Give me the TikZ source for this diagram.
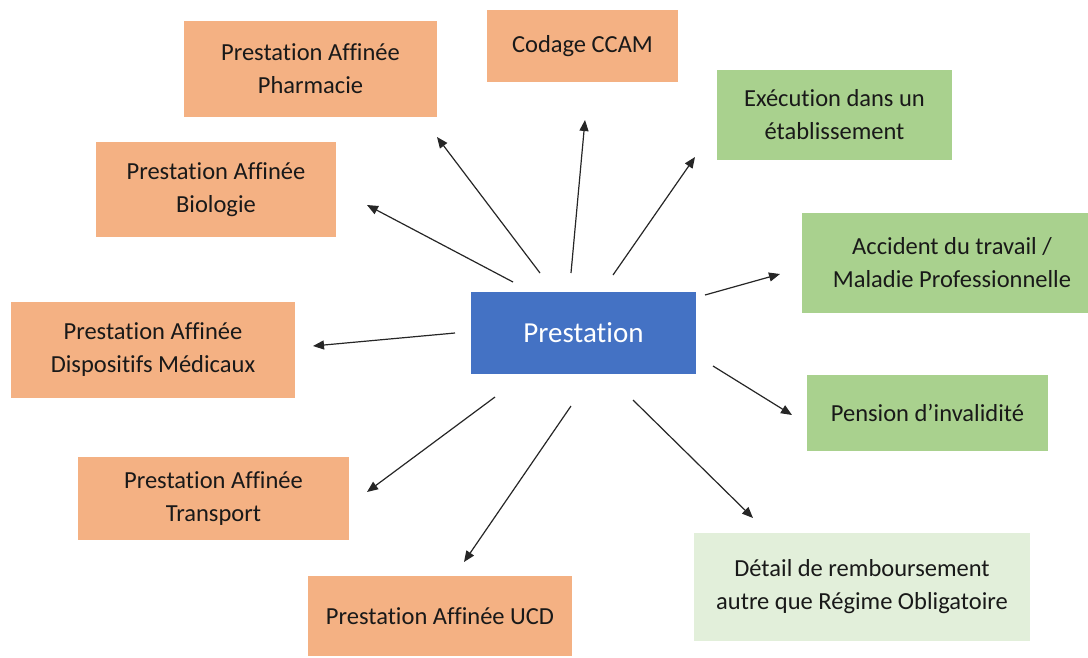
\documentclass[tikz,border=0pt]{standalone}
\usepackage{fontspec}
\setmainfont{Carlito}[Ligatures=NoCommon]
\usetikzlibrary{arrows.meta}
\definecolor{orangebox}{HTML}{F4B183}
\definecolor{greenbox}{HTML}{A9D18E}
\definecolor{lightgreen}{HTML}{E2EFDA}
\definecolor{bluebox}{HTML}{4472C4}
\tikzset{
  x=1pt,y=-1pt,
  box/.style={inner sep=0pt,align=center,font=\fontsize{24.5}{33}\selectfont,text=black!90},
  orange/.style={box,fill=orangebox},
  green/.style={box,fill=greenbox},
  lgreen/.style={box,fill=lightgreen},
  arr/.style={draw=black!85,line width=1.2pt,-{Triangle[length=11pt,width=9pt]}}
}
\newcommand{\bx}[7]{% name style x1 y1 x2 y2 text
  \path[#2] (#3,#4) rectangle (#5,#6);
  \node[#2,fill=none] (#1) at ({(#3+#5)/2},{(#4+#6)/2}) {#7};
}
\begin{document}
\begin{tikzpicture}
\useasboundingbox (0,0) rectangle (1088,657);
\path[fill=bluebox] (471,292) rectangle (696,374);
\node[text=white,font=\fontsize{29}{34}\selectfont] (main) at (583.5,333) {Prestation};
\bx{pharma}{orange}{184}{21}{437}{117}{Prestation Affinée\\Pharmacie}
\bx{ccam}{orange}{487}{10}{678}{82}{Codage CCAM}
\bx{exec}{green}{717}{70}{952}{160}{Exécution dans un\\établissement}
\bx{acc}{green}{802}{213}{1088}{313}{\hspace*{14pt}Accident du travail /\\\hspace*{14pt}Maladie Professionnelle}
\bx{pens}{green}{807}{375}{1048}{451}{Pension d’invalidité}
\bx{detail}{lgreen}{694}{533}{1030}{641}{Détail de remboursement\\autre que Régime Obligatoire}
\bx{ucd}{orange}{308}{576}{572}{656}{Prestation Affinée UCD}
\bx{trans}{orange}{78}{457}{349}{540}{Prestation Affinée\\Transport}
\bx{disp}{orange}{11}{302}{295}{398}{Prestation Affinée\\Dispositifs Médicaux}
\bx{bio}{orange}{96}{142}{336}{237}{Prestation Affinée\\Biologie}
% arrow endpoints
\coordinate (sBio) at (513,282); \coordinate (eBio) at (367,205);
\coordinate (sPh) at (540,273); \coordinate (ePh) at (437,137);
\coordinate (sCc) at (571,273); \coordinate (eCc) at (585,120);
\coordinate (sEx) at (613,275); \coordinate (eEx) at (695,157);
\coordinate (sAc) at (705,295); \coordinate (eAc) at (780,274);
\coordinate (sPe) at (713,366); \coordinate (ePe) at (792,415);
\coordinate (sDe) at (633,400); \coordinate (eDe) at (753,518);
\coordinate (sUc) at (571,406); \coordinate (eUc) at (464,562);
\coordinate (sTr) at (495,397); \coordinate (eTr) at (367,492);
\coordinate (sDi) at (455,333); \coordinate (eDi) at (313,346);
\foreach \a in {Bio,Ph,Cc,Ex,Ac,Pe,De,Uc,Tr,Di}{
  \draw[arr] (s\a) -- (e\a);
}
\end{tikzpicture}
\end{document}
